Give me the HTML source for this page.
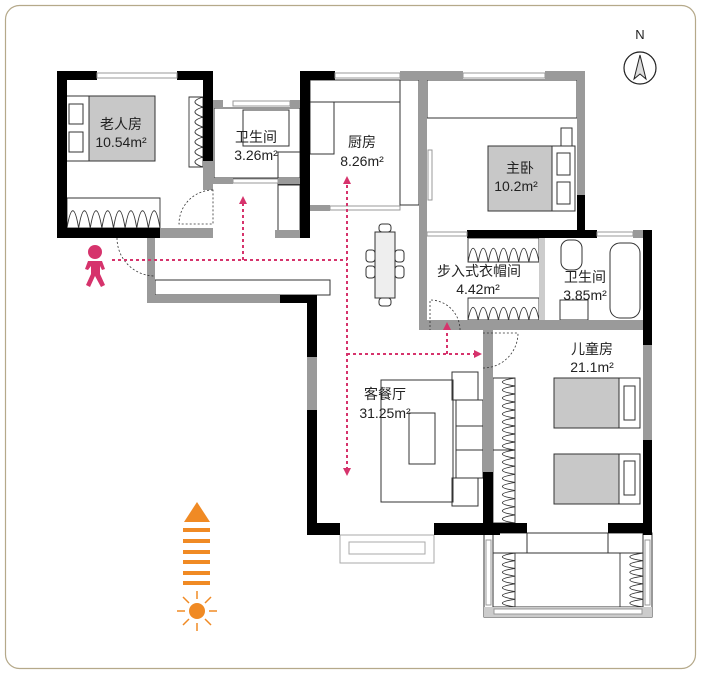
<!DOCTYPE html>
<html><head><meta charset="utf-8"><style>
html,body{margin:0;padding:0;background:#fff}
svg{display:block}
text{font-family:"Liberation Sans","Noto Sans CJK SC",sans-serif;fill:#222}
</style></head><body>
<svg id="s" width="704" height="676" viewBox="0 0 704 676" xmlns="http://www.w3.org/2000/svg">
<rect x="5.5" y="5.5" width="690" height="663" rx="14" fill="#fff" stroke="#b5a98a" stroke-width="1.2"/>
<g fill="none" stroke="#333" stroke-width="1">
<rect x="63" y="96" width="26" height="65" fill="#fff"/>
<rect x="69" y="104" width="14" height="20"/><rect x="69" y="132" width="14" height="20"/>
<rect x="89" y="96" width="66" height="65" fill="#c8c8c8"/>
<rect x="214" y="108" width="86" height="70"/>
<rect x="243" y="110" width="46" height="36"/>
<rect x="310" y="80" width="90" height="22"/>
<rect x="310" y="102" width="24" height="52"/>
<rect x="278" y="152" width="22" height="32"/><rect x="278" y="185" width="22" height="50"/>
<rect x="400" y="80" width="19" height="125"/>
<rect x="427" y="80" width="150" height="38"/>
<rect x="488" y="146" width="64" height="65" fill="#c8c8c8"/>
<rect x="552" y="146" width="23" height="65" fill="#fff"/>
<rect x="557" y="153" width="13" height="22"/><rect x="557" y="182" width="13" height="22"/>
<rect x="561" y="128" width="11" height="18"/>
<rect x="561" y="240" width="21" height="30" rx="8"/>
<rect x="610" y="243" width="30" height="75" rx="10"/>
<rect x="560" y="300" width="28" height="20"/>
<rect x="375" y="232" width="20" height="66" fill="#eee"/>
<rect x="366" y="250" width="9" height="12" rx="3"/><rect x="366" y="266" width="9" height="12" rx="3"/>
<rect x="395" y="250" width="9" height="12" rx="3"/><rect x="395" y="266" width="9" height="12" rx="3"/>
<rect x="379" y="224" width="12" height="8" rx="3"/><rect x="379" y="298" width="12" height="8" rx="3"/>
<rect x="381" y="380" width="72" height="122"/>
<rect x="409" y="413" width="26" height="51"/>
<rect x="452" y="372" width="26" height="28"/><rect x="452" y="478" width="26" height="28"/>
<rect x="456" y="400" width="27" height="78"/>
<line x1="456" y1="426" x2="483" y2="426"/><line x1="456" y1="450" x2="483" y2="450"/>
<rect x="554" y="378" width="65" height="50" fill="#c8c8c8"/><rect x="619" y="378" width="21" height="50" fill="#fff"/><rect x="624" y="386" width="11" height="34"/>
<rect x="554" y="454" width="65" height="50" fill="#c8c8c8"/><rect x="619" y="454" width="21" height="50" fill="#fff"/><rect x="624" y="461" width="11" height="34"/>
<rect x="340" y="535" width="94" height="28" stroke="#aaa"/><rect x="349" y="542" width="76" height="12" stroke="#aaa"/>
<rect x="484" y="533" width="168" height="84"/>
<rect x="493" y="533" width="34" height="20"/><rect x="608" y="533" width="35" height="20"/>
<rect x="493" y="553" width="150" height="54"/>
<rect x="155" y="280" width="175" height="15" fill="#fff"/>
</g>
<g id="zz" fill="none" stroke="#333" stroke-width="0.9"></g>
<g fill="#000">
<rect x="57" y="71" width="40" height="9"/><rect x="177" y="71" width="36" height="9"/>
<rect x="57" y="71" width="10" height="167"/><rect x="57" y="228" width="103" height="10"/>
<rect x="203" y="71" width="10" height="90"/>
<rect x="300" y="71" width="35" height="9"/><rect x="300" y="71" width="10" height="167"/>
<rect x="280" y="295" width="37" height="8"/><rect x="307" y="295" width="10" height="240"/>
<rect x="307" y="523" width="33" height="12"/><rect x="434" y="523" width="66" height="12"/>
<rect x="483" y="472" width="10" height="63"/><rect x="493" y="523" width="34" height="10"/>
<rect x="608" y="523" width="44" height="10"/>
<rect x="467" y="230" width="130" height="8"/><rect x="577" y="195" width="8" height="43"/>
<rect x="643" y="230" width="9" height="115"/><rect x="643" y="440" width="9" height="95"/>
</g>
<g fill="#9a9a9a">
<rect x="203" y="161" width="10" height="29"/><rect x="160" y="228" width="53" height="10"/>
<rect x="213" y="100" width="10" height="8"/><rect x="290" y="100" width="10" height="8"/>
<rect x="213" y="178" width="20" height="6"/><rect x="278" y="178" width="22" height="6"/>
<rect x="275" y="230" width="25" height="8"/>
<rect x="310" y="205" width="20" height="6"/>
<rect x="147" y="238" width="8" height="64"/><rect x="147" y="295" width="133" height="8"/>
<rect x="400" y="71" width="63" height="9"/><rect x="545" y="71" width="40" height="9"/>
<rect x="577" y="80" width="8" height="115"/>
<rect x="419" y="80" width="8" height="250"/><rect x="419" y="320" width="224" height="10"/>
<rect x="633" y="230" width="10" height="8"/>
<rect x="483" y="330" width="10" height="142"/>
<rect x="307" y="357" width="10" height="53"/><rect x="643" y="345" width="9" height="95"/>
<rect x="539" y="238" width="6" height="82" fill="#ccc"/>
<rect x="484" y="607" width="168" height="10" fill="#ccc"/>
</g>
<g stroke="#999" stroke-width="1" fill="#fff">
<rect x="97" y="73" width="80" height="5"/><rect x="335" y="73" width="65" height="5"/><rect x="463" y="73" width="82" height="5"/>
<rect x="233" y="101" width="57" height="5"/><rect x="233" y="179" width="45" height="4"/>
<rect x="330" y="206" width="70" height="4"/><rect x="427" y="232" width="40" height="4"/>
<rect x="597" y="232" width="36" height="4"/>
<rect x="428" y="150" width="4" height="50"/><rect x="494" y="609" width="148" height="5"/>
<rect x="486" y="540" width="5" height="65"/><rect x="645" y="540" width="5" height="65"/>
</g>
<g fill="none" stroke="#333" stroke-width="0.8" stroke-dasharray="2,2">
<path d="M213 190 A34 34 0 0 0 179 224 L213 224 Z"/>
<path d="M117 238 A38 38 0 0 0 155 276"/>
<path d="M460 330 A30 30 0 0 0 430 300 L430 330"/>
<path d="M483 368 A35 35 0 0 0 518 333 L483 333"/>
</g>
<g stroke="#d6336c" stroke-width="2" stroke-dasharray="3,3" fill="none">
<path d="M112 260 H347"/><path d="M243 260 V204"/><path d="M347 470 V184"/>
<path d="M347 354 H474"/><path d="M447 354 V330"/>
</g>
<g fill="#d6336c">
<path d="M243 196 l-4 8 h8z"/><path d="M347 176 l-4 8 h8z"/><path d="M347 476 l-4 -8 h8z"/>
<path d="M482 354 l-8 -4 v8z"/><path d="M447 322 l-4 8 h8z"/>
<circle cx="95" cy="252" r="7"/>
<path d="M88 261 h14 l3 8 -3 1 -2 -4 v8 l5 11 -4 2 -6 -11 -5 11 -4 -2 5 -11 v-8 l-3 4 -3 -1z"/>
</g>
<circle cx="640" cy="68" r="16" fill="none" stroke="#222" stroke-width="1.2"/>
<path d="M640 55 L646 79 L640 74 L634 79Z" fill="#ddd" stroke="#222"/>
<text x="640" y="39" font-size="13" text-anchor="middle">N</text>
<g fill="#f08a24">
<path d="M197 502 L210 522 L184 522Z"/>
<rect x="183" y="528" width="27" height="4"/><rect x="183" y="539" width="27" height="4"/><rect x="183" y="550" width="27" height="4"/>
<rect x="183" y="560" width="27" height="4"/><rect x="183" y="571" width="27" height="4"/><rect x="183" y="581" width="27" height="4"/>
<circle cx="197" cy="611" r="8"/>
</g>
<g stroke="#f08a24" stroke-width="1.5">
<line x1="197" y1="591" x2="197" y2="599"/><line x1="197" y1="623" x2="197" y2="631"/>
<line x1="177" y1="611" x2="185" y2="611"/><line x1="209" y1="611" x2="217" y2="611"/>
<line x1="183" y1="597" x2="189" y2="603"/><line x1="205" y1="619" x2="211" y2="625"/>
<line x1="211" y1="597" x2="205" y2="603"/><line x1="189" y1="619" x2="183" y2="625"/>
</g>
<g font-size="14" text-anchor="middle">
<text x="121" y="129">老人房</text><text x="121" y="147">10.54m²</text>
<text x="256" y="142">卫生间</text><text x="256" y="160">3.26m²</text>
<text x="362" y="147">厨房</text><text x="362" y="166">8.26m²</text>
<text x="520" y="173">主卧</text><text x="516" y="191">10.2m²</text>
<text x="479" y="276">步入式衣帽间</text><text x="478" y="294">4.42m²</text>
<text x="585" y="282">卫生间</text><text x="585" y="300">3.85m²</text>
<text x="385" y="399">客餐厅</text><text x="385" y="418">31.25m²</text>
<text x="592" y="354">儿童房</text><text x="592" y="372">21.1m²</text>
</g>
</svg>
<script>
(function(){
var g=document.getElementById('zz');var d='';
function box(x,y,w,h,vert,n){
 d+='M'+x+' '+y+'h'+w+'v'+h+'h'+(-w)+'z';
 if(vert){var s=w/n;d+='M'+x+' '+(y+h);for(var i=0;i<n;i++){d+='Q'+(x+s*i+s/2)+' '+(y-h*0.15)+' '+(x+s*(i+1))+' '+(y+h);} }
 else{var s=h/n;d+='M'+(x+w)+' '+y;for(var i=0;i<n;i++){d+='Q'+(x-w*0.15)+' '+(y+s*i+s/2)+' '+(x+w)+' '+(y+s*(i+1));} }
}
box(67,198,93,30,true,8);
box(189,97,14,70,false,7);
box(468,238,71,24,true,7);
box(468,298,71,22,true,7);
box(493,378,22,72,false,9);
box(493,450,22,73,false,9);
box(493,553,22,54,false,7);
box(620,553,23,54,false,7);
var p=document.createElementNS('http://www.w3.org/2000/svg','path');p.setAttribute('d',d);g.appendChild(p);
})();
</script>
</body></html>
